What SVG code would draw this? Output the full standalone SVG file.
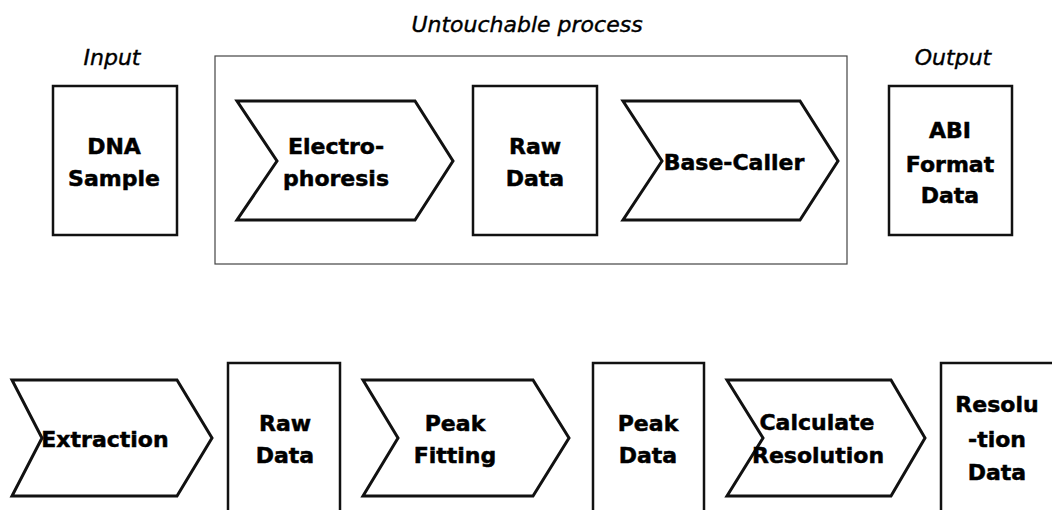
<svg xmlns="http://www.w3.org/2000/svg" width="1052" height="510" viewBox="0 0 1052 510">
<style>
.box{fill:#fff;stroke:#111;stroke-width:2.5}
.chev{fill:#fff;stroke:#111;stroke-width:3;stroke-linejoin:miter}
.frame{fill:none;stroke:#444;stroke-width:1.2}
.t{font-family:"DejaVu Sans",Verdana,sans-serif;font-weight:bold;font-size:22px;fill:#000;stroke:#000;stroke-width:0.5;text-anchor:middle}
.lbl{font-family:"DejaVu Sans",Verdana,sans-serif;font-style:italic;font-size:22px;fill:#000;stroke:#000;stroke-width:0.4;text-anchor:middle}
</style>
<rect width="1052" height="510" fill="#fff"/>
<g id="labels">
<text class="lbl" x="112" y="65">Input</text>
<text class="lbl" x="527" y="32">Untouchable process</text>
<text class="lbl" x="953" y="65">Output</text>
</g>
<g id="untouchable-process">
<rect class="frame" x="215" y="56" width="632" height="208"/>
</g>
<g id="dna-sample">
<rect class="box" x="53" y="86" width="124" height="149"/>
<text class="t" x="114" y="154">DNA</text>
<text class="t" x="114" y="186">Sample</text>
</g>
<g id="electrophoresis">
<polygon class="chev" points="237,101 415,101 453,161 415,220 237,220 277,161"/>
<text class="t" x="336" y="154">Electro-</text>
<text class="t" x="336" y="186">phoresis</text>
</g>
<g id="raw-data-1">
<rect class="box" x="473" y="86" width="124" height="149"/>
<text class="t" x="535" y="154">Raw</text>
<text class="t" x="535" y="186">Data</text>
</g>
<g id="base-caller">
<polygon class="chev" points="623,101 800,101 838,161 800,220 623,220 662,161"/>
<text class="t" x="734" y="170">Base-Caller</text>
</g>
<g id="abi-format-data">
<rect class="box" x="889" y="86" width="123" height="149"/>
<text class="t" x="950" y="138">ABI</text>
<text class="t" x="950" y="172">Format</text>
<text class="t" x="950" y="203">Data</text>
</g>
<g id="extraction">
<polygon class="chev" points="12,380 177,380 212,438 177,496 12,496 42,438"/>
<text class="t" x="105" y="447">Extraction</text>
</g>
<g id="raw-data-2">
<rect class="box" x="228" y="363" width="112" height="170"/>
<text class="t" x="285" y="431">Raw</text>
<text class="t" x="285" y="463">Data</text>
</g>
<g id="peak-fitting">
<polygon class="chev" points="363,380 533,380 569,438 533,496 363,496 398,438"/>
<text class="t" x="455" y="431">Peak</text>
<text class="t" x="455" y="463">Fitting</text>
</g>
<g id="peak-data">
<rect class="box" x="593" y="363" width="111" height="170"/>
<text class="t" x="648" y="431">Peak</text>
<text class="t" x="648" y="463">Data</text>
</g>
<g id="calculate-resolution">
<polygon class="chev" points="727,380 891,380 925,438 891,496 727,496 763,438"/>
<text class="t" x="817" y="430">Calculate</text>
<text class="t" x="818" y="463">Resolution</text>
</g>
<g id="resolution-data">
<rect class="box" x="941" y="363" width="130" height="170"/>
<text class="t" x="997" y="412">Resolu</text>
<text class="t" x="997" y="447">-tion</text>
<text class="t" x="997" y="480">Data</text>
</g>
<g id="connectors"></g>
</svg>
